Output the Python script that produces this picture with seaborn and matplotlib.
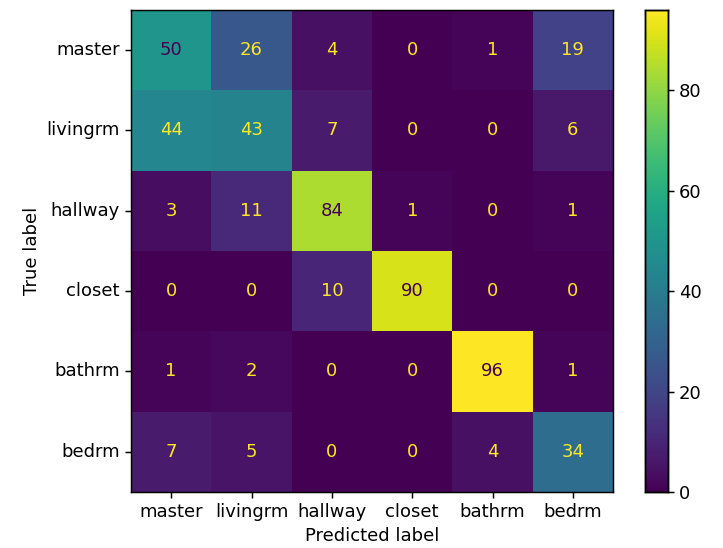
import numpy as np
import pandas as pd
import matplotlib
matplotlib.use("Agg")
import matplotlib.pyplot as plt
import seaborn as sns

labels = ["master", "livingrm", "hallway", "closet", "bathrm", "bedrm"]
row_master = [50, 26, 4, 0, 1, 19]
row_livingrm = [44, 43, 7, 0, 0, 6]
row_hallway = [3, 11, 84, 1, 0, 1]
row_closet = [0, 0, 10, 90, 0, 0]
row_bathrm = [1, 2, 0, 0, 96, 1]
row_bedrm = [7, 5, 0, 0, 4, 34]

cm = np.array([row_master, row_livingrm, row_hallway, row_closet, row_bathrm, row_bedrm])
df = pd.DataFrame(cm, index=labels, columns=labels)

FS = 13
LW = 1.05
TL = 4.5

fig = plt.figure(figsize=(7.23, 5.48), dpi=100)
ax = fig.add_axes([0.1812, 0.1022, 0.6667, 0.8796])
cax = fig.add_axes([0.8921, 0.1022, 0.0318, 0.8796])

cmap = plt.get_cmap("viridis")
sns.heatmap(df, ax=ax, cbar_ax=cax, cmap=cmap, annot=True, fmt="d",
            annot_kws={"fontsize": FS}, linewidths=0, square=False)

thresh = (cm.max() + cm.min()) / 2.0
for t in ax.texts:
    v = int(t.get_text())
    t.set_color(cmap(0.0) if v >= thresh else cmap(1.0))

for s in ax.spines.values():
    s.set_visible(True)
    s.set_color("black")
    s.set_linewidth(LW)
for s in cax.spines.values():
    s.set_visible(True)
    s.set_color("black")
    s.set_linewidth(LW)

ax.tick_params(axis="both", length=TL, width=LW, labelsize=FS)
ax.set_xticklabels(labels, rotation=0)
ax.set_yticklabels(labels, rotation=0)
ax.set_xlabel("Predicted label", fontsize=FS)
ax.set_ylabel("True label", fontsize=FS)
cax.set_yticks([0, 20, 40, 60, 80])
cax.tick_params(length=TL, width=LW, labelsize=FS)

fig.savefig("out.png", dpi=100)
